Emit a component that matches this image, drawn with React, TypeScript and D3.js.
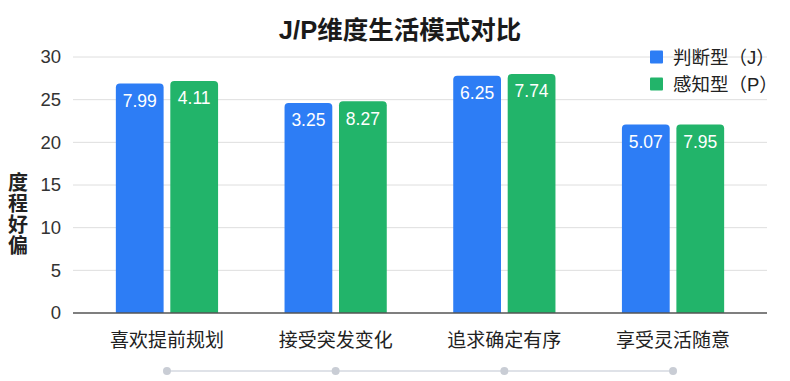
import React from 'react';
import * as d3 from 'd3';

const categories = ['喜欢提前规划', '接受突发变化', '追求确定有序', '享受灵活随意'];
const seriesNames = ['判断型（J）', '感知型（P）'];
const jValues = [26.9, 24.6, 27.8, 22.1];
const pValues = [27.2, 24.8, 28.0, 22.1];
const jLabels = ['7.99', '3.25', '6.25', '5.07'];
const pLabels = ['4.11', '8.27', '7.74', '7.95'];
const yTicks = [0, 5, 10, 15, 20, 25, 30];
const yTitleChars = ['度', '程', '好', '偏'];

const W = 790;
const H = 381;
const FONT = "'Liberation Sans', Arial, Helvetica, 'Noto Sans CJK SC', sans-serif";
const COLORS = ['#2d7df5', '#22b46a'];

export default function App() {
  const left = 73, right = 767, top = 57, bottom = 313;
  const x0 = d3.scaleBand<string>().domain(categories).range([left, right]).paddingInner(0.394).paddingOuter(0.254);
  const x1 = d3.scaleBand<string>().domain(['J', 'P']).range([0, x0.bandwidth()]).paddingInner(0.123);
  const y = d3.scaleLinear().domain([0, 30]).range([bottom, top]);
  const series = [
    { key: 'J', values: jValues, labels: jLabels, color: COLORS[0] },
    { key: 'P', values: pValues, labels: pLabels, color: COLORS[1] },
  ];
  const bw = x1.bandwidth();
  const r = 4;
  const barPath = (x: number, y0: number, w: number, h: number) => {
    const rr = Math.min(r, h / 2);
    return `M${x},${y0 + h}V${y0 + rr}Q${x},${y0} ${x + rr},${y0}H${x + w - rr}Q${x + w},${y0} ${x + w},${y0 + rr}V${y0 + h}Z`;
  };
  const centers = categories.map((c) => (x0(c) as number) + x0.bandwidth() / 2);

  return (
    <svg width={W} height={H} style={{ position: 'absolute', left: 0, top: 0, background: '#fff' }} fontFamily={FONT}>
      <rect width={W} height={H} fill="#fff" />
      <text x={400} y={39} textAnchor="middle" fontSize={25.5} fontWeight="bold" fill="#1a1a1a">J/P维度生活模式对比</text>
      {yTicks.map((t) => (
        <g key={t}>
          {t !== 0 && <line x1={left} x2={right} y1={y(t)} y2={y(t)} stroke="#dedede" strokeWidth={1} />}
          <text x={61} y={y(t)} dy="0.35em" textAnchor="end" fontSize={18.5} fill="#333">{t}</text>
        </g>
      ))}
      {yTitleChars.map((ch, i) => (
        <text key={ch} x={18} y={183 + i * 21} dy="0.36em" textAnchor="middle" fontSize={20} fontWeight="bold" fill="#222">{ch}</text>
      ))}
      {categories.map((c, ci) => (
        <g key={c} transform={`translate(${x0(c)},0)`}>
          {series.map((s) => {
            const bx = x1(s.key) as number;
            const by = y(s.values[ci]);
            return (
              <g key={s.key}>
                <path d={barPath(bx, by, bw, bottom - by)} fill={s.color} />
                <text x={bx + bw / 2} y={by + 17} dy="0.36em" textAnchor="middle" fontSize={17.5} fill="#fff">{s.labels[ci]}</text>
              </g>
            );
          })}
        </g>
      ))}
      <line x1={left} x2={right} y1={bottom} y2={bottom} stroke="#555" strokeWidth={1.5} />
      {categories.map((c, ci) => (
        <text key={c} x={centers[ci]} y={340} dy="0.36em" textAnchor="middle" fontSize={19} fill="#222">{c}</text>
      ))}
      <line x1={centers[0]} x2={centers[centers.length - 1]} y1={371} y2={371} stroke="#dfe2e8" strokeWidth={2} />
      {centers.map((cx, i) => (
        <circle key={i} cx={cx} cy={371} r={4} fill="#c9cdd5" />
      ))}
      {seriesNames.map((n, i) => (
        <g key={n} transform={`translate(650,${57 + i * 27})`}>
          <rect x={0} y={-6.5} width={13} height={13} fill={COLORS[i]} rx={1} />
          <text x={23} y={0} dy="0.36em" fontSize={18.5} fill="#222">{n}</text>
        </g>
      ))}
    </svg>
  );
}
